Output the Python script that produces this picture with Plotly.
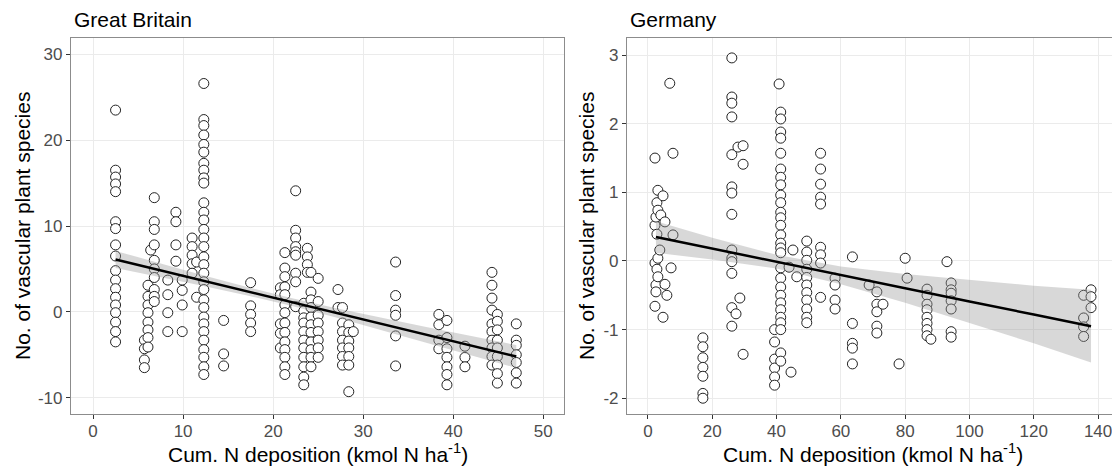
import plotly.graph_objects as go

# ---------------- data: Great Britain ----------------
gb_col_x = [2.5, 5.7, 6.1, 6.4, 6.8, 8.3, 9.2, 9.9, 11.0, 11.5, 12.3, 14.5, 17.5,
            20.8, 21.3, 22.5, 23.4, 23.8, 24.2, 25.0, 27.2, 27.7, 28.4, 28.9,
            33.6, 38.4, 39.3, 41.3, 44.3, 44.9, 47.0]
gb_col_y = [
    [23.5, 16.5, 15.7, 14.9, 14.0, 10.5, 9.7, 7.8, 6.5, 4.8, 3.7, 2.7, 1.7, 0.8, -0.1, -1.2, -2.3, -3.5],
    [-3.3, -4.3, -5.6, -6.5],
    [3.1, 1.8, 0.8, -0.1, -1.2, -2.1, -3.0, -4.1],
    [7.2],
    [13.3, 10.5, 9.6, 7.8, 6.0, 5.0, 4.0, 2.6, 1.8, 1.2],
    [3.7, 2.0, -0.1, -2.3],
    [11.6, 10.5, 7.8, 5.9],
    [3.7, 2.5, 0.8, -2.3],
    [8.6, 7.6, 6.6, 5.6, 4.5],
    [5.8, 1.7],
    [26.6, 22.4, 21.7, 20.6, 19.5, 18.6, 17.3, 16.5, 15.6, 15.0, 12.7, 11.6, 10.7, 9.6, 8.6, 7.6,
     6.4, 5.5, 4.5, 3.5, 2.6, 1.4, 0.5, -0.6, -1.4, -2.3, -3.3, -4.4, -5.3, -6.4, -7.3],
    [-1.0, -4.9, -6.3],
    [3.4, 0.7, -0.3, -1.3, -2.3],
    [2.8, 2.0, -1.4, -2.5, -4.2],
    [6.9, 5.1, 4.1, 2.9, 2.0, 0.8, -0.1, -1.3, -2.4, -3.5, -4.4, -5.3, -6.4, -7.3],
    [14.1, 9.5, 8.6, 7.6, 7.0, 6.6, 4.5, 3.5, 0.6],
    [1.0, 0.1, -0.7, -1.3, -2.3, -3.3, -4.2, -5.3, -6.4, -7.6, -8.5],
    [7.4, 6.4, 5.5, 4.6],
    [4.6, 2.3, 1.4, 0.5, -0.6, -1.5, -2.4, -3.5, -4.4, -5.3, -6.4],
    [3.9, 1.2, -0.4, -1.3, -2.3, -3.3, -4.2, -5.3],
    [2.6, 0.5],
    [0.5, -1.3, -2.3, -3.3, -4.2, -5.2, -6.2],
    [-1.5, -2.4, -3.4, -4.2, -5.2, -6.2, -9.3],
    [-2.3],
    [5.8, 1.9, 0.2, -0.4, -2.8, -6.3],
    [-0.3, -1.5, -3.3, -4.3],
    [-1.0, -3.0, -4.3, -5.3, -6.4, -7.3, -8.5],
    [-4.0, -5.3, -6.4],
    [4.6, 3.1, 1.6, 0.2, -1.4, -2.3, -3.3, -4.2, -5.2, -6.2],
    [-0.3, -1.1, -2.1, -3.3, -4.2, -5.2, -6.2, -7.2, -8.3],
    [-1.4, -3.3, -3.9, -5.0, -5.9, -7.1, -8.3],
]
gb_fit_x = [2.5, 7, 12, 17, 22, 27, 32, 37, 42, 47]
gb_fit_y = [6.10, 4.96, 3.69, 2.42, 1.15, -0.12, -1.39, -2.66, -3.93, -5.20]
gb_ci_lo = [5.10, 4.15, 3.06, 1.93, 0.70, -0.66, -2.09, -3.55, -5.04, -6.53]
gb_ci_hi = [7.10, 5.77, 4.32, 2.91, 1.60, 0.42, -0.69, -1.77, -2.82, -3.87]

# ---------------- data: Germany ----------------
de_col_x = [2.2, 2.5, 2.8, 3.1, 3.7, 4.0, 4.7, 5.3, 5.9, 6.8, 7.2, 7.8, 17.1, 26.1, 27.4,
            28.0, 28.6, 29.6, 39.4, 40.8, 41.3, 43.9, 44.5, 45.1, 46.3, 49.4, 53.7, 58.2,
            63.6, 68.8, 71.2, 73.1, 78.1, 80.0, 80.6, 86.8, 88.0, 93.0, 94.3, 135.5, 137.8]
de_col_y = [
    [1.50, 0.52, -0.03, -0.66],
    [0.64, -0.35, -0.45],
    [0.85, 0.39, -0.12],
    [1.03, 0.74, 0.04, -0.23],
    [0.16],
    [0.67],
    [0.95, -0.82],
    [0.57, -0.34],
    [-0.50],
    [2.59],
    [-0.10],
    [1.57, 0.38],
    [-1.12, -1.25, -1.41, -1.55, -1.68, -1.93, -2.00],
    [2.96, 2.39, 2.30, 2.10, 1.55, 1.08, 0.99, 0.68, 0.16, 0.04, -0.01, -0.18, -0.68, -0.95],
    [-0.77],
    [1.66],
    [-0.54],
    [1.68, 1.41, -1.36],
    [-1.00, -1.18, -1.43, -1.56, -1.69, -1.81],
    [2.58],
    [2.17, 2.07, 1.88, 1.79, 1.57, 1.34, 1.22, 1.11, 0.96, 0.85, 0.71, 0.63, 0.52, 0.38, 0.26,
     0.19, 0.12, -0.10, -0.25, -0.38, -0.50, -0.61, -0.71, -0.82, -0.90, -1.00, -1.34, -1.46],
    [-0.09],
    [-1.62],
    [0.16],
    [-0.23],
    [0.29, 0.13, 0.01, -0.12, -0.24, -0.35, -0.46, -0.57, -0.70, -0.82, -0.90],
    [1.57, 1.34, 1.12, 0.93, 0.83, 0.20, 0.09, -0.03, -0.53],
    [-0.25, -0.35, -0.57, -0.70],
    [0.06, -0.91, -1.20, -1.27, -1.50],
    [-0.35],
    [-0.45, -0.63, -0.74, -0.95, -1.05],
    [-0.63],
    [-1.50],
    [0.04],
    [-0.25],
    [-0.41, -0.50, -0.63, -0.71, -0.82, -0.91, -1.00, -1.09],
    [-1.14],
    [-0.01],
    [-0.32, -0.42, -0.47, -0.58, -0.70, -1.03, -1.11],
    [-0.50, -0.83, -0.96, -1.10],
    [-0.42, -0.52, -0.68],
]
de_fit_x = [2.5, 20, 40, 60, 80, 100, 120, 137.8]
de_fit_y = [0.35, 0.18, -0.01, -0.21, -0.40, -0.59, -0.78, -0.95]
de_ci_lo = [0.12, 0.02, -0.11, -0.34, -0.61, -0.90, -1.20, -1.48]
de_ci_hi = [0.58, 0.34, 0.09, -0.08, -0.19, -0.28, -0.36, -0.42]

gb_x_ticks = [0, 10, 20, 30, 40, 50]
gb_y_ticks = [-10, 0, 10, 20, 30]
de_x_ticks = [0, 20, 40, 60, 80, 100, 120, 140]
de_y_ticks = [-2, -1, 0, 1, 2, 3]

panel_titles = ["Great Britain", "Germany"]
y_title = "No. of vascular plant species"
x_title = "Cum. N deposition (kmol N ha<sup>-1</sup>)"

# ---------------- build ----------------
# page body has an 8px default margin: figure is drawn 8px in from the window edge
OFF = 8
W, H = 1120 - OFF, 472 - OFF
FONT = "Liberation Sans, Arial, sans-serif"


def fx_(p):  # page px (x) -> paper fraction
    return (p - OFF) / W


def fy_(p):  # page px (y from top) -> paper fraction
    return 1 - (p - OFF) / H


def flatten(cx, cy):
    xs, ys = [], []
    for x, col in zip(cx, cy):
        for y in col:
            xs.append(x)
            ys.append(y)
    return xs, ys


fig = go.Figure()

panels = [
    (gb_col_x, gb_col_y, gb_fit_x, gb_fit_y, gb_ci_lo, gb_ci_hi, "x", "y"),
    (de_col_x, de_col_y, de_fit_x, de_fit_y, de_ci_lo, de_ci_hi, "x2", "y2"),
]
for cx, cy, fx, fy, lo, hi, xa, ya in panels:
    px, py = flatten(cx, cy)
    fig.add_trace(go.Scatter(
        x=px, y=py, mode="markers", xaxis=xa, yaxis=ya, showlegend=False,
        marker=dict(size=10, color="white", line=dict(color="#222222", width=1)),
    ))
    fig.add_trace(go.Scatter(
        x=fx + fx[::-1], y=hi + lo[::-1], mode="lines", fill="toself",
        fillcolor="rgba(153,153,153,0.38)", line=dict(width=0), xaxis=xa, yaxis=ya,
        showlegend=False, hoverinfo="skip",
    ))
    fig.add_trace(go.Scatter(
        x=fx, y=fy, mode="lines", line=dict(color="black", width=2.5),
        xaxis=xa, yaxis=ya, showlegend=False,
    ))

y_dom = [fy_(414), fy_(38)]
common = dict(
    automargin=False,
    showgrid=True, gridcolor="#EBEBEB", gridwidth=1.1, zeroline=False,
    ticks="outside", ticklen=4, tickcolor="#333333", tickwidth=1,
    tickfont=dict(family=FONT, size=17, color="#4D4D4D"),
    showline=True, mirror=True, linecolor="#8C8C8C", linewidth=1.2,
)


def labels(vals):
    return [str(v) for v in vals]


fig.update_layout(
    width=W, height=H, margin=dict(l=0, r=0, t=0, b=0, autoexpand=False),
    paper_bgcolor="white", plot_bgcolor="white",
    font=dict(family=FONT),
    xaxis=dict(domain=[fx_(71), fx_(564)], range=[-2.45, 52.3], tickvals=gb_x_ticks,
               ticktext=labels(gb_x_ticks), anchor="y", ticklabelstandoff=-3, **common),
    yaxis=dict(domain=y_dom, range=[-11.9, 31.9], tickvals=gb_y_ticks,
               ticktext=labels(gb_y_ticks), anchor="x", **common),
    xaxis2=dict(domain=[fx_(627), fx_(1119)], range=[-6.5, 146.5], tickvals=de_x_ticks,
                ticktext=labels(de_x_ticks), anchor="y2", ticklabelstandoff=-3, **common),
    yaxis2=dict(domain=y_dom, range=[-2.23, 3.25], tickvals=de_y_ticks,
                ticktext=labels(de_y_ticks), anchor="x2", **common),
)

ann = []
for t, xp in zip(panel_titles, [72, 628]):
    ann.append(dict(text=t, x=fx_(xp), y=fy_(20), xref="paper", yref="paper",
                    xanchor="left", yanchor="middle", showarrow=False,
                    font=dict(family=FONT, size=21, color="black")))
for xp in [22, 586]:
    ann.append(dict(text=y_title, x=fx_(xp), y=fy_(226), xref="paper", yref="paper",
                    xanchor="center", yanchor="middle", textangle=-90, showarrow=False,
                    font=dict(family=FONT, size=21, color="black")))
for xp in [318, 873]:
    ann.append(dict(text=x_title, x=fx_(xp), y=fy_(453), xref="paper", yref="paper",
                    xanchor="center", yanchor="middle", showarrow=False,
                    font=dict(family=FONT, size=21, color="black")))
fig.update_layout(annotations=ann)

fig.write_html("out.html")
